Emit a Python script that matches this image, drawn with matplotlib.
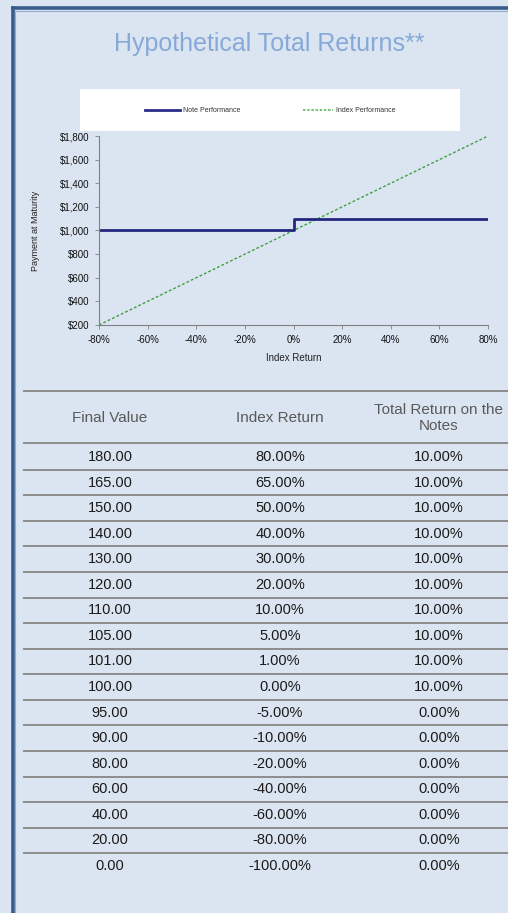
import matplotlib.pyplot as plt
from matplotlib.lines import Line2D
from matplotlib.patches import Rectangle
from matplotlib.ticker import FuncFormatter

# table data
final_values = [180.00, 165.00, 150.00, 140.00, 130.00, 120.00, 110.00, 105.00, 101.00,
                100.00, 95.00, 90.00, 80.00, 60.00, 40.00, 20.00, 0.00]
index_returns = [80.00, 65.00, 50.00, 40.00, 30.00, 20.00, 10.00, 5.00, 1.00,
                 0.00, -5.00, -10.00, -20.00, -40.00, -60.00, -80.00, -100.00]
note_returns = [10.00, 10.00, 10.00, 10.00, 10.00, 10.00, 10.00, 10.00, 10.00,
                10.00, 0.00, 0.00, 0.00, 0.00, 0.00, 0.00, 0.00]
headers = ["Final Value", "Index Return", "Total Return on the\nNotes"]

# chart data
note_x = [-80, 0, 0, 80]
note_y = [1000, 1000, 1100, 1100]
index_x = [-80, 80]
index_y = [200, 1800]
x_ticks = [-80, -60, -40, -20, 0, 20, 40, 60, 80]
y_ticks = [200, 400, 600, 800, 1000, 1200, 1400, 1600, 1800]

W, H = 508, 913
bg = '#dbe5f1'
frame = '#385d8a'
plt.rcParams['font.family'] = ['Liberation Sans', 'DejaVu Sans']

fig = plt.figure(figsize=(W / 100, H / 100), dpi=100)
fig.patch.set_facecolor(bg)


def fx(px):
    return px / W


def fy(py):
    return 1 - py / H


# frame on left and top
fig.add_artist(Line2D([fx(12.5), fx(12.5)], [fy(8.5), 0], color=frame, lw=2.6))
fig.add_artist(Line2D([fx(12.5), 1], [fy(8.5), fy(8.5)], color=frame, lw=2.6))
fig.add_artist(Line2D([fx(15), fx(15)], [fy(11), 0], color='#8faacc', lw=0.8))
fig.add_artist(Line2D([fx(15), 1], [fy(11), fy(11)], color='#8faacc', lw=0.8))

fig.text(fx(269), fy(44), "Hypothetical Total Returns**", ha='center', va='center',
         fontsize=18, color='#86a9d8')

# legend box
fig.add_artist(Rectangle((fx(80), fy(131)), fx(380), (131 - 89) / H, facecolor='white',
                         edgecolor='none'))
fig.add_artist(Line2D([fx(145), fx(180)], [fy(110), fy(110)], color='#2b2d8c', lw=2))
fig.text(fx(183), fy(110), "Note Performance", fontsize=5, va='center', color='#333333')
fig.add_artist(Line2D([fx(303), fx(333)], [fy(110), fy(110)], color='#5cb85c', lw=1.2,
                      linestyle=(0, (1.5, 1))))
fig.text(fx(336), fy(110), "Index Performance", fontsize=5, va='center', color='#333333')

# chart
ax = fig.add_axes([fx(99), fy(325), fx(488) - fx(99), (325 - 136) / H])
ax.set_facecolor(bg)
ax.plot(index_x, index_y, color='#3f9f3f', lw=1, linestyle=(0, (2, 1.5)))
ax.plot(note_x, note_y, color='#23287e', lw=2)
ax.set_xlim(-80, 80)
ax.set_ylim(200, 1800)
ax.set_xticks(x_ticks)
ax.set_yticks(y_ticks)
ax.xaxis.set_major_formatter(FuncFormatter(lambda v, p: f"{v:.0f}%"))
ax.yaxis.set_major_formatter(FuncFormatter(lambda v, p: f"${v:,.0f}"))
for s in ['top', 'right']:
    ax.spines[s].set_visible(False)
for s in ['left', 'bottom']:
    ax.spines[s].set_color('#808080')
    ax.spines[s].set_linewidth(0.8)
ax.tick_params(length=3, width=0.6, color='#808080', labelsize=7, labelcolor='#111111', pad=4)
ax.set_xlabel("Index Return", fontsize=7, color='#222222', labelpad=6)
ax.set_ylabel("Payment at Maturity", fontsize=6.5, color='#222222', labelpad=14)

# table
col_x = [110, 280, 439]
line_col = '#8c8c8c'
fig.add_artist(Line2D([fx(24), 1], [fy(391), fy(391)], color=line_col, lw=1.4))
fig.add_artist(Line2D([fx(24), 1], [fy(443), fy(443)], color=line_col, lw=1.4))
for x, h in zip(col_x, headers):
    fig.text(fx(x), fy(418), h, ha='center', va='center', fontsize=11, color='#595959',
             linespacing=1.15)

row0, step = 457, 25.56
for i, (fv, ir, nr) in enumerate(zip(final_values, index_returns, note_returns)):
    y = row0 + i * step
    fig.text(fx(col_x[0]), fy(y), f"{fv:.2f}", ha='center', va='center', fontsize=10.5,
             color='#1a1a1a')
    fig.text(fx(col_x[1]), fy(y), f"{ir:.2f}%", ha='center', va='center', fontsize=10.5,
             color='#1a1a1a')
    fig.text(fx(col_x[2]), fy(y), f"{nr:.2f}%", ha='center', va='center', fontsize=10.5,
             color='#1a1a1a')
    if i < len(final_values) - 1:
        fig.add_artist(Line2D([fx(24), 1], [fy(y + step / 2), fy(y + step / 2)],
                              color=line_col, lw=1.4))

fig.savefig('out.png', dpi=100, facecolor=bg)
